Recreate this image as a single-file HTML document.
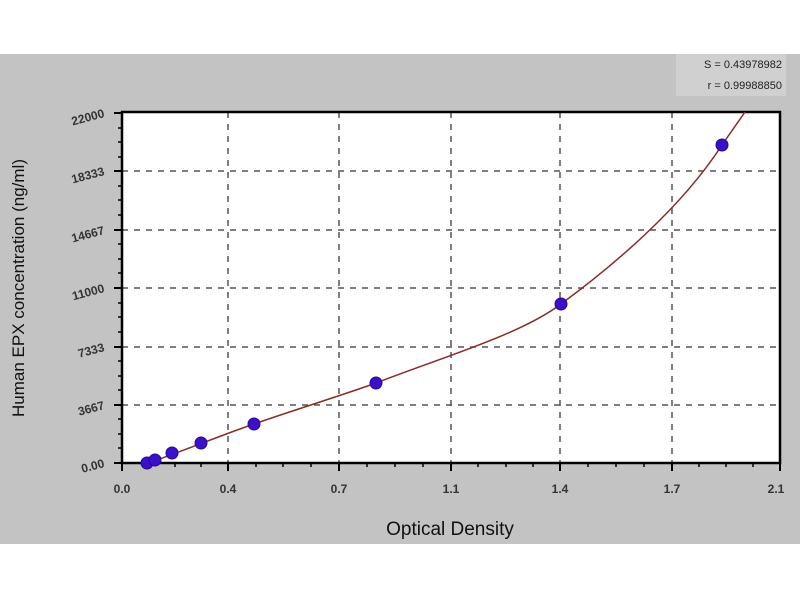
<!DOCTYPE html>
<html><head><style>
body{margin:0;background:#fff;}
svg{display:block;font-family:"Liberation Sans",sans-serif;}
</style></head><body>
<svg width="800" height="600" viewBox="0 0 800 600">
<rect x="0" y="0" width="800" height="600" fill="#fff"/>
<rect x="0" y="54" width="800" height="490" fill="#c3c3c3"/>
<rect x="122" y="112" width="658" height="351" fill="#fff"/>
<g stroke="#555" stroke-width="1.5" stroke-dasharray="6,6" fill="none">
<line x1="228" y1="112" x2="228" y2="463"/>
<line x1="339" y1="112" x2="339" y2="463"/>
<line x1="451" y1="112" x2="451" y2="463"/>
<line x1="560" y1="112" x2="560" y2="463"/>
<line x1="672" y1="112" x2="672" y2="463"/>
<line x1="122" y1="171" x2="780" y2="171"/>
<line x1="122" y1="230" x2="780" y2="230"/>
<line x1="122" y1="288" x2="780" y2="288"/>
<line x1="122" y1="347" x2="780" y2="347"/>
<line x1="122" y1="405" x2="780" y2="405"/>
</g>
<rect x="122" y="112" width="658" height="351" fill="none" stroke="#000" stroke-width="2.5"/>
<g stroke="#000" stroke-width="2">
<line x1="122" y1="463" x2="122" y2="471"/><line x1="228" y1="463" x2="228" y2="471"/><line x1="339" y1="463" x2="339" y2="471"/><line x1="451" y1="463" x2="451" y2="471"/><line x1="560" y1="463" x2="560" y2="471"/><line x1="672" y1="463" x2="672" y2="471"/><line x1="780" y1="463" x2="780" y2="471"/>
<line x1="114" y1="463" x2="122" y2="463"/><line x1="114" y1="405" x2="122" y2="405"/><line x1="114" y1="347" x2="122" y2="347"/><line x1="114" y1="288" x2="122" y2="288"/><line x1="114" y1="230" x2="122" y2="230"/><line x1="114" y1="171" x2="122" y2="171"/><line x1="114" y1="113" x2="122" y2="113"/>
</g>
<g stroke="#000" stroke-width="1.5">
<line x1="148" y1="463" x2="148" y2="467"/><line x1="175" y1="463" x2="175" y2="467"/><line x1="201" y1="463" x2="201" y2="467"/>
<line x1="256" y1="463" x2="256" y2="467"/><line x1="283" y1="463" x2="283" y2="467"/><line x1="311" y1="463" x2="311" y2="467"/>
<line x1="367" y1="463" x2="367" y2="467"/><line x1="395" y1="463" x2="395" y2="467"/><line x1="423" y1="463" x2="423" y2="467"/>
<line x1="478" y1="463" x2="478" y2="467"/><line x1="506" y1="463" x2="506" y2="467"/><line x1="533" y1="463" x2="533" y2="467"/>
<line x1="588" y1="463" x2="588" y2="467"/><line x1="616" y1="463" x2="616" y2="467"/><line x1="644" y1="463" x2="644" y2="467"/>
<line x1="699" y1="463" x2="699" y2="467"/><line x1="726" y1="463" x2="726" y2="467"/><line x1="753" y1="463" x2="753" y2="467"/>
<line x1="118" y1="448" x2="122" y2="448"/><line x1="118" y1="434" x2="122" y2="434"/><line x1="118" y1="419" x2="122" y2="419"/>
<line x1="118" y1="390" x2="122" y2="390"/><line x1="118" y1="376" x2="122" y2="376"/><line x1="118" y1="361" x2="122" y2="361"/>
<line x1="118" y1="332" x2="122" y2="332"/><line x1="118" y1="317" x2="122" y2="317"/><line x1="118" y1="303" x2="122" y2="303"/>
<line x1="118" y1="273" x2="122" y2="273"/><line x1="118" y1="259" x2="122" y2="259"/><line x1="118" y1="244" x2="122" y2="244"/>
<line x1="118" y1="215" x2="122" y2="215"/><line x1="118" y1="200" x2="122" y2="200"/><line x1="118" y1="186" x2="122" y2="186"/>
<line x1="118" y1="157" x2="122" y2="157"/><line x1="118" y1="142" x2="122" y2="142"/><line x1="118" y1="128" x2="122" y2="128"/>
</g>
<path d="M143,465 C180,452 230,432 254,424 C300,408 340,396 376,383 C440,358 520,335 561,304 C610,268 680,210 722,145 L745,112" fill="none" stroke="#8b2a2a" stroke-width="1.5"/>
<g fill="#3a10c8" stroke="#2a0890" stroke-width="1">
<circle cx="147" cy="463" r="6"/><circle cx="155" cy="460" r="6"/><circle cx="172" cy="453" r="6"/><circle cx="201" cy="443" r="6"/><circle cx="254" cy="424" r="6"/><circle cx="376" cy="383" r="6"/><circle cx="561" cy="304" r="6"/><circle cx="722" cy="145" r="6"/>
</g>
<g font-size="12" font-weight="bold" fill="#333" text-anchor="middle">
<text x="122" y="493">0.0</text><text x="228" y="493">0.4</text><text x="339" y="493">0.7</text><text x="451" y="493">1.1</text><text x="560" y="493">1.4</text><text x="672" y="493">1.7</text><text x="776" y="493">2.1</text>
</g>
<g font-size="12" font-weight="bold" fill="#333" text-anchor="end">
<text x="104" y="467" transform="rotate(-15 104 463)">0.00</text>
<text x="104" y="409" transform="rotate(-15 104 405)">3667</text>
<text x="104" y="351" transform="rotate(-15 104 347)">7333</text>
<text x="104" y="292" transform="rotate(-15 104 288)">11000</text>
<text x="104" y="234" transform="rotate(-15 104 230)">14667</text>
<text x="104" y="175" transform="rotate(-15 104 171)">18333</text>
<text x="104" y="117" transform="rotate(-15 104 113)">22000</text>
</g>
<text x="450" y="535" font-size="19" text-anchor="middle" fill="#111">Optical Density</text>
<text x="0" y="0" font-size="17" text-anchor="middle" fill="#111" transform="translate(24 288) rotate(-90)">Human EPX concentration (ng/ml)</text>
<rect x="676" y="54" width="110" height="42" fill="#d0d0d0"/>
<text x="782" y="68" font-size="11" text-anchor="end" fill="#222">S = 0.43978982</text>
<text x="782" y="89" font-size="11" text-anchor="end" fill="#222">r = 0.99988850</text>
</svg>
</body></html>
